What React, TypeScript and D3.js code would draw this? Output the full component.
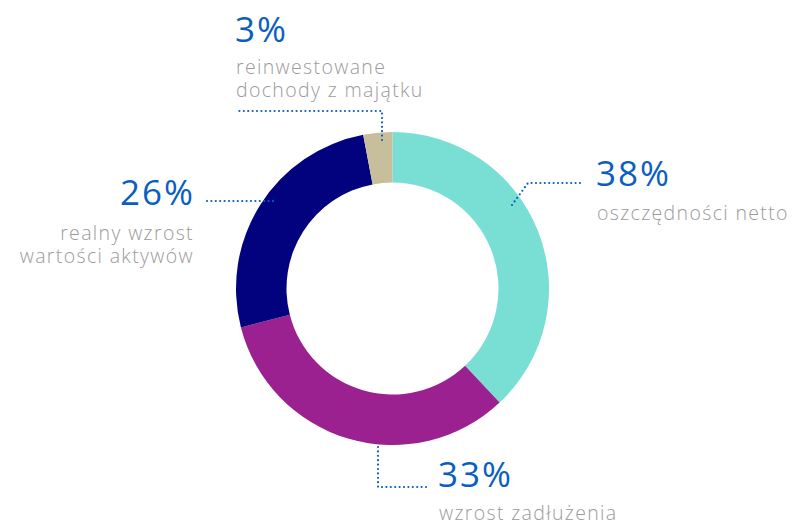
import React, { useEffect, useRef } from 'react';
import * as d3 from 'd3';

// slices clockwise from 12 o'clock
const categories = ['oszczędności netto', 'wzrost zadłużenia', 'realny wzrost wartości aktywów', 'reinwestowane dochody z majątku'];
const values = [38, 33, 26, 3];
const colors = ['#79dfd5', '#9b2191', '#02027f', '#c7bf9b'];

// label text, split into lines
const labelLines = [
    ['oszczędności netto'],
    ['wzrost zadłużenia'],
    ['realny wzrost', 'wartości aktywów'],
    ['reinwestowane', 'dochody z majątku'],
];

const App = () => {
    const chartRef = useRef<SVGSVGElement | null>(null);

    useEffect(() => {
        const width = 792;
        const height = 524;
        const cx = 392.5;
        const cy = 288.5;
        const outerR = 156.5;
        const innerR = 106;

        const svg = d3.select(chartRef.current);
        svg.selectAll('*').remove();

        const data = categories.map((c, i) => ({ name: c, value: values[i], color: colors[i] }));

        const pie = d3.pie<any>().sort(null).value((d) => d.value);
        const arc = d3.arc<any>().innerRadius(innerR).outerRadius(outerR);

        const g = svg.append('g').attr('transform', `translate(${cx},${cy})`);
        g.selectAll('path')
            .data(pie(data))
            .enter()
            .append('path')
            .attr('d', arc)
            .attr('fill', (d) => d.data.color);

        const blue = '#0b5ec1';
        const gray = '#9b9b9b';
        const font = '"Open Sans", Lato, sans-serif';

        // leader lines (dotted)
        const leaders = [
            [[512, 205], [528, 183], [580, 183]],
            [[378, 447], [378, 487], [428, 487]],
            [[273, 201], [206, 201]],
            [[382, 140], [382, 111], [237, 111]],
        ];
        svg.append('g')
            .selectAll('path')
            .data(leaders)
            .enter()
            .append('path')
            .attr('d', (d) => d3.line()(d as [number, number][]))
            .attr('fill', 'none')
            .attr('stroke', blue)
            .attr('stroke-width', 2.2)
            .attr('stroke-linecap', 'round')
            .attr('stroke-dasharray', '0 4.4');

        // label positions: [x, percent baseline, first text baseline, anchor]
        const labelPos: [number, number, number, string][] = [
            [596, 186, 220, 'start'],
            [438, 487, 520, 'start'],
            [193, 205, 240, 'end'],
            [235, 42, 74, 'start'],
        ];

        labelPos.forEach(([x, py, ty, anchor], i) => {
            svg.append('text')
                .attr('x', anchor === 'end' ? x + 2 : x)
                .attr('y', py)
                .attr('text-anchor', anchor)
                .attr('fill', blue)
                .attr('font-family', font)
                .attr('font-size', 35)
                .attr('letter-spacing', 2)
                .text(`${values[i]}%`);
            labelLines[i].forEach((line, j) => {
                svg.append('text')
                    .attr('x', anchor === 'end' ? x + 1 : x + 1)
                    .attr('y', ty + j * 22.5)
                    .attr('text-anchor', anchor)
                    .attr('fill', gray)
                    .attr('font-family', font)
                    .attr('font-size', 19.5)
                    .attr('font-weight', 300)
                    .attr('letter-spacing', 1.35)
                    .text(line);
            });
        });

        svg.attr('width', width).attr('height', height);
    }, []);

    return (
        <div style={{ position: 'absolute', left: 0, top: 0 }}>
            <svg ref={chartRef} width={792} height={524} style={{ display: 'block', background: '#fff' }} />
        </div>
    );
};

export default App;
